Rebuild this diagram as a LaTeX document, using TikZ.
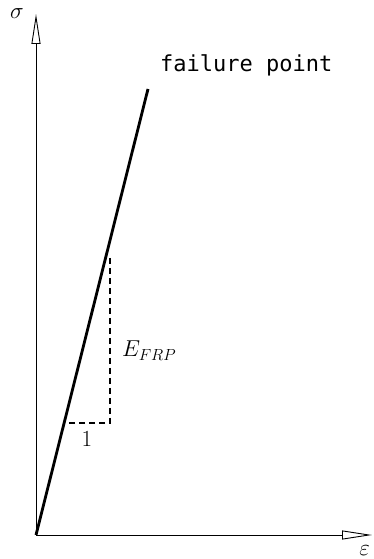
\documentclass[tikz,border=0pt]{standalone}
\usepackage{fix-cm}
\usepackage{fontspec}
\setmonofont{DejaVu Sans Mono}
\usetikzlibrary{arrows.meta,positioning,calc}
\tikzset{
  axisline/.style={-{Triangle[open, length=30pt, width=9pt]}, line width=0.9pt},
  loadline/.style={line width=2.8pt},
  slopeline/.style={dashed, line width=1.2pt, dash pattern=on 6pt off 4pt},
  axislabel/.style={font=\fontsize{23}{27}\selectfont, inner sep=0pt},
  notelabel/.style={font=\ttfamily\fontsize{22}{26}\selectfont, inner sep=0pt},
}
\begin{document}
\begin{tikzpicture}[x=1pt, y=1pt]
\useasboundingbox (0,0) rectangle (373,559);
\coordinate (o) at (36,24);
\coordinate (ytop) at (36,545);
\coordinate (xend) at (372,24);
\coordinate (fail) at (148,470);
\coordinate (corner) at (110,136);
\coordinate (ctop) at (110,301);
\coordinate (cleft) at (64,136);
% axes
\draw[axisline] (o) -- (ytop);
\draw[axisline] (o) -- (xend);
\node[axislabel] (sig) at (17,545) {$\sigma$};
\node[axislabel, anchor=south east] (eps) at (370,3) {$\varepsilon$};
% linear response up to failure
\draw[loadline] (o) -- (fail);
\node[notelabel, anchor=base west] (failtxt) at (160,487) {failure point};
% slope triangle
\draw[slopeline] (ctop) -- (corner) -- (cleft);
\node[axislabel, anchor=base west] (modulus) at (122,202) {$E_{FRP}$};
\node[axislabel, anchor=base] (unit) at (87,112) {$1$};
\end{tikzpicture}
\end{document}
